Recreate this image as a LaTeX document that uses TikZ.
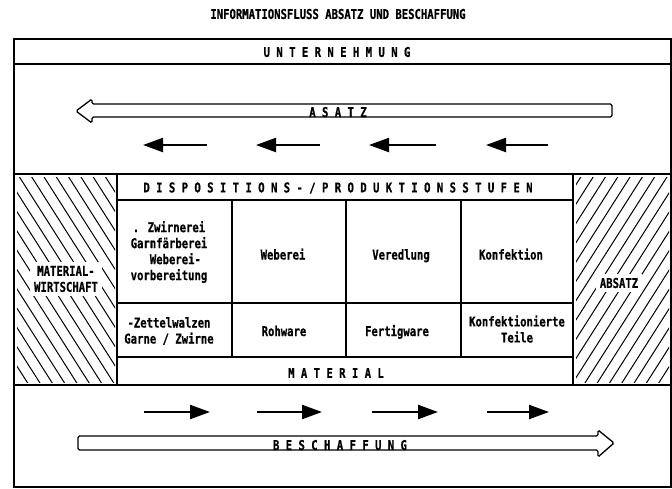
\documentclass[tikz,border=0pt]{standalone}
\usepackage{fontspec}
\newfontfamily\plotfont[FakeStretch=0.785,FakeBold=0.6]{DejaVu Sans Mono}
\usetikzlibrary{arrows.meta}
\tikzset{
  txt/.style={font={\plotfont\bfseries\fontsize{13.5}{16}\selectfont}, inner sep=0pt, align=center},
  frame/.style={line width=1.4pt},
  hatch/.style={line width=1pt},
  hollow/.style={line width=1.3pt, line join=miter},
  smallarrow/.style={line width=2.2pt, -{Triangle[length=20pt,width=14pt]}},
}
\begin{document}
\begin{tikzpicture}[x=1pt,y=-1pt]
\useasboundingbox (0,0) rectangle (672,488);
% title
\node[txt] (title) at (338,14) {INFORMATIONSFLUSS ABSATZ UND BESCHAFFUNG};
% outer frame
\draw[frame] (14,39) rectangle (671,487);
\draw[frame] (14,64) -- (671,64);
\node[txt] (unt) at (337,52) {U N T E R N E H M U N G};
% ASATZ hollow arrow
\draw[hollow, rounded corners=1.5pt] (612,104) -- (92,104) -- (92,99) -- (76,111) -- (92,123) -- (92,117) -- (612,117) -- cycle;
\node[txt, anchor=base] (asatz) at (338,117) {A S A T Z};
% small left arrows
\foreach \a/\b [count=\i] in {207/143, 320/256, 436/369, 548/486}{
  \coordinate (ls\i) at (\a,145);
  \coordinate (le\i) at (\b,145);
  \draw[smallarrow] (ls\i) -- (le\i);
}
% middle band
\draw[frame] (14,174) -- (671,174);
\draw[frame] (14,385) -- (671,385);
\draw[frame] (117,174) -- (117,385);
\draw[frame] (573,174) -- (573,385);
\draw[frame] (117,200) -- (573,200);
\draw[frame] (117,303) -- (573,303);
\draw[frame] (117,357) -- (573,357);
\foreach \x in {232,346,461}{ \draw[frame] (\x,200) -- (\x,357); }
% hatching left
\begin{scope}
  \clip (17,177) rectangle (115,382);
  \foreach \k in {-12,...,9}{ \draw[hatch] (15+\k*12.3,170) -- ++(150,235.5); }
\end{scope}
\node[txt, fill=white, inner sep=4pt] (matw) at (66,279) {MATERIAL-\\WIRTSCHAFT};
% hatching right
\begin{scope}
  \clip (576,177) rectangle (669,382);
  \foreach \k in {0,...,19}{ \draw[hatch] (573+\k*12.3,170) -- ++(-150,235.5); }
\end{scope}
\node[txt, fill=white, inner sep=4pt] (absatz) at (619,283) {ABSATZ};
% headings
\node[txt] (dispo) at (338,188) {D I S P O S I T I O N S - / P R O D U K T I O N S S T U F E N};
\node[txt] (mat) at (336,373) {M A T E R I A L};
% cells
\node[txt] (c11) at (169,252) {. Zwirnerei\\Garnfärberei\\\ \ Weberei-\\vorbereitung};
\node[txt, anchor=base] (c12) at (283,259.5) {Weberei};
\node[txt, anchor=base] (c13) at (401,259.5) {Veredlung};
\node[txt, anchor=base] (c14) at (511,259.5) {Konfektion};
\node[txt] (c21) at (169,331) {-Zettelwalzen\\Garne / Zwirne};
\node[txt, anchor=base] (c22) at (284,336) {Rohware};
\node[txt, anchor=base] (c23) at (397,336) {Fertigware};
\node[txt] (c24) at (517,329) {Konfektionierte\\Teile};
% small right arrows
\foreach \a/\b [count=\i] in {144/210, 257/322, 372/438, 487/549}{
  \coordinate (rs\i) at (\a,412);
  \coordinate (re\i) at (\b,412);
  \draw[smallarrow] (rs\i) -- (re\i);
}
% BESCHAFFUNG hollow arrow
\draw[hollow, rounded corners=1.5pt] (78,436) -- (598,436) -- (598,430) -- (614,443) -- (598,457) -- (598,450) -- (78,450) -- cycle;
\node[txt, anchor=base] (besch) at (340,450) {B E S C H A F F U N G};
\end{tikzpicture}
\end{document}
